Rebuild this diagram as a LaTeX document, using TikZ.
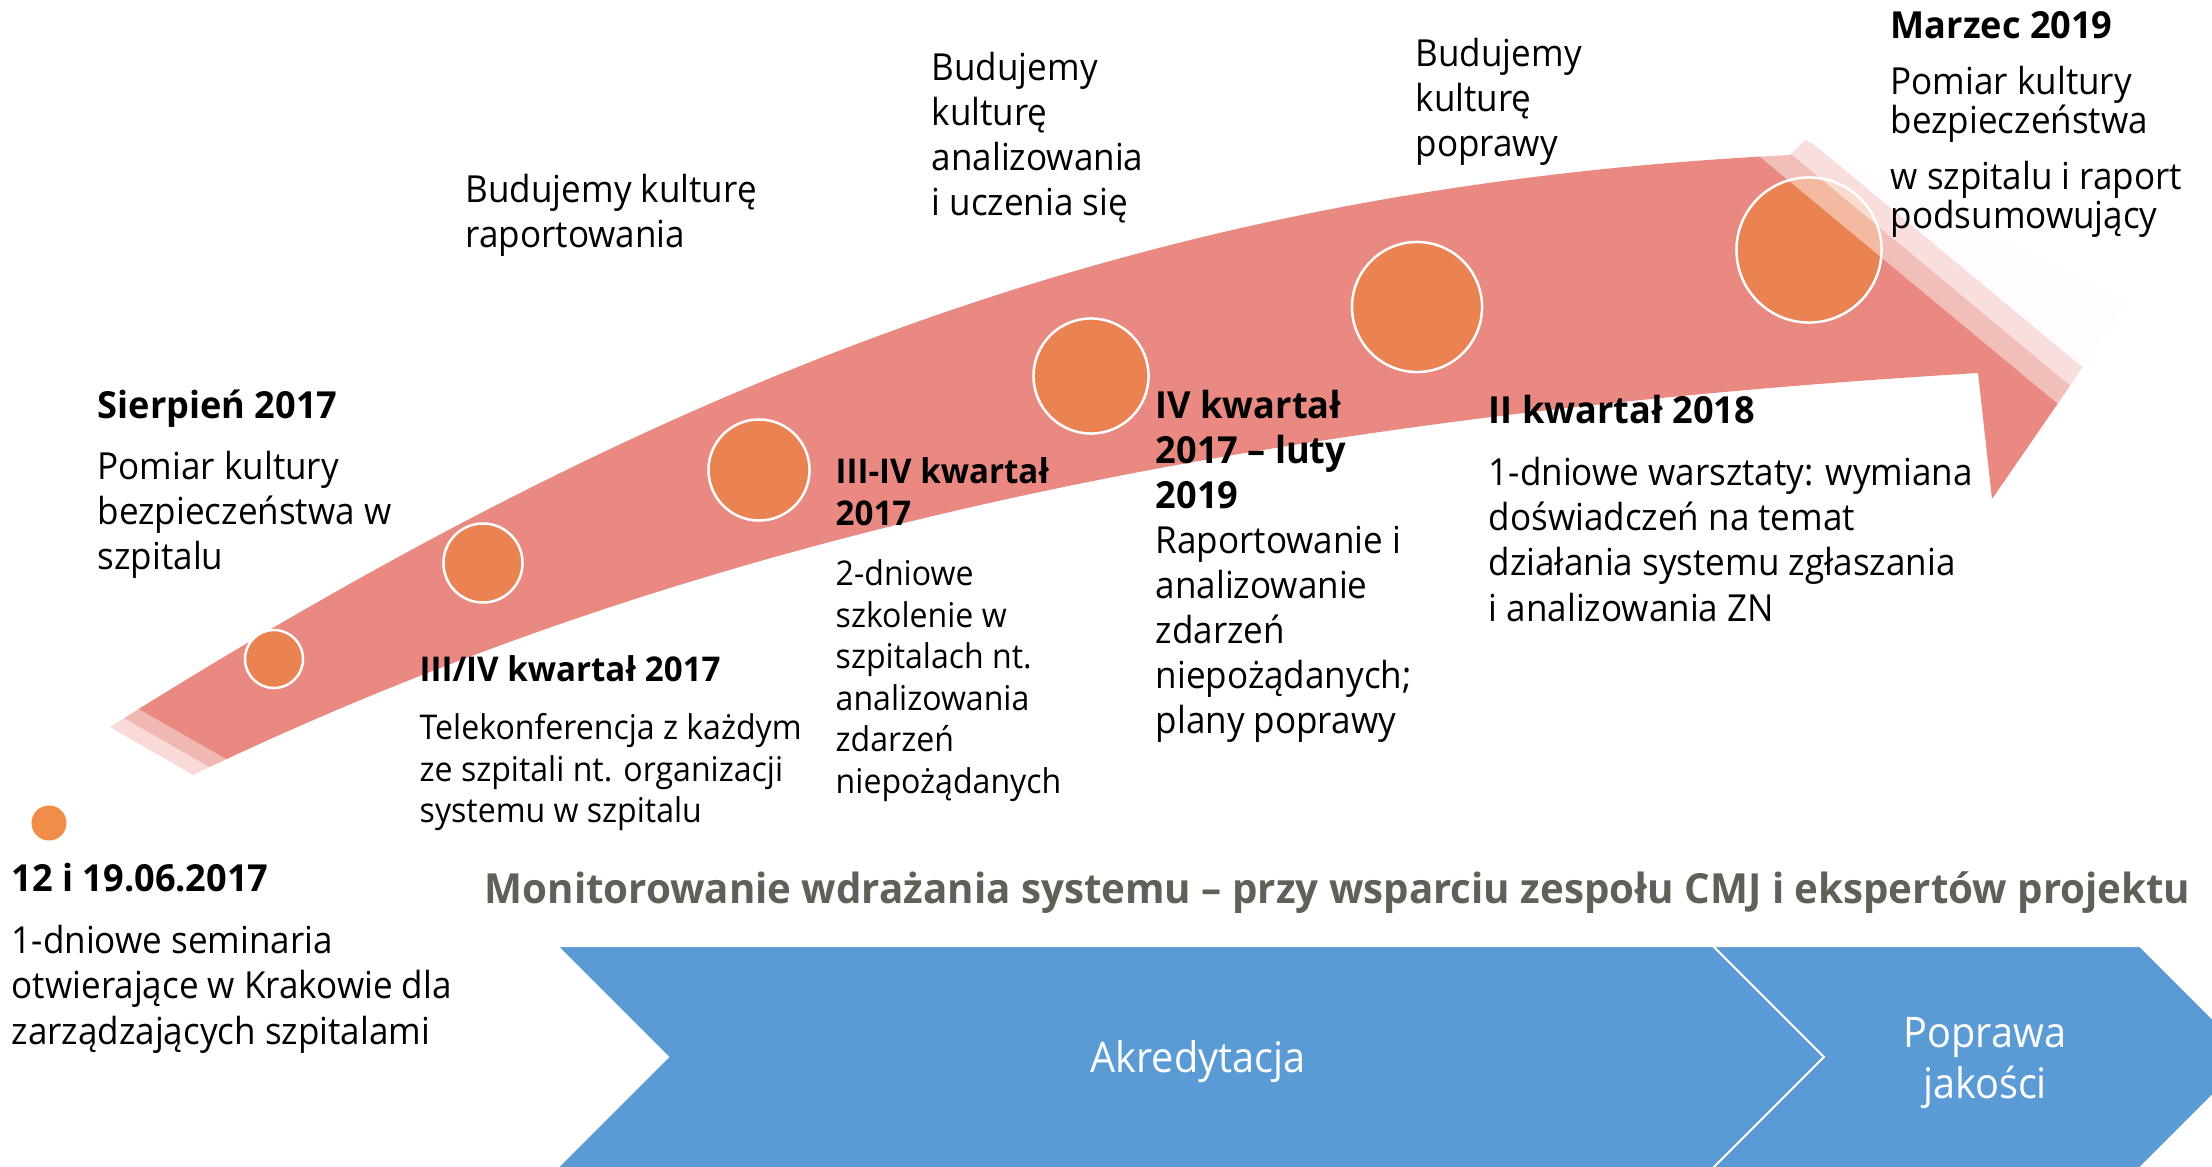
\documentclass[tikz,border=0pt]{standalone}
\usepackage{fontspec}
\setmainfont{Open Sans}[UprightFeatures={FakeStretch=0.94}, BoldFeatures={FakeStretch=0.97}]
\usetikzlibrary{positioning}
\definecolor{bandred}{RGB}{233,137,129}
\definecolor{dotorange}{RGB}{234,130,82}
\definecolor{dotlight}{RGB}{240,141,72}
\definecolor{chevblue}{RGB}{91,155,213}
\definecolor{monigrey}{RGB}{96,96,88}
\tikzset{
  dot/.style={circle, fill=dotorange, draw=white, line width=0.25mm, inner sep=0pt},
  txt/.style={anchor=north west, inner sep=0pt, align=left, font=\fontsize{10.6}{12.8}\selectfont},
  txts/.style={txt, font=\fontsize{9.7}{11.8}\selectfont},
  chev/.style={fill=chevblue, draw=white, line width=0.2mm, line join=miter},
  wash/.style={fill=white, fill opacity=#1}
}

\begin{document}
\begin{tikzpicture}[x=0.01cm, y=-0.01cm]
\clip (0,0) rectangle (2212,1167);
\fill[white] (0,0) rectangle (2212,1167);

% band
\fill[bandred] (110,727) .. controls (710,349) and (1190,185) .. (1790,155) -- (1805,140) -- (2127,303)
  -- (1992,499) -- (1978,373) .. controls (1178,421) and (643,559) .. (193,775) -- cycle;
\fill[wash=0.4] (100,687) -- (233,763) -- (203,815) -- (70,739) -- cycle;
\fill[wash=0.5] (92,700) -- (225,776) -- (195,828) -- (62,752) -- cycle;

\node[circle, fill=dotlight, inner sep=0pt, minimum size=3.5mm] (c0) at (49,823) {};
\node[dot, minimum size=5.8mm] (c1) at (274,659) {};
\node[dot, minimum size=7.9mm] (c2) at (483,563) {};
\node[dot, minimum size=10.1mm] (c3) at (759,470) {};
\node[dot, minimum size=11.5mm] (c4) at (1091,376) {};
\node[dot, minimum size=13mm] (c5) at (1417,307) {};
\node[dot, minimum size=14.5mm] (c6) at (1809,250) {};

\fill[wash=0.45] (1671,83) -- (2146,477) -- (2401,169) -- (1926,-225) -- cycle;
\fill[wash=0.5] (1685,66) -- (2160,460) -- (2415,152) -- (1940,-242) -- cycle;
\fill[wash=0.93] (1699,49) -- (2174,443) -- (2429,135) -- (1954,-259) -- cycle;

% texts
\node[txt] (t1) at (465,173) {Budujemy kulturę\\raportowania};
\node[txt] (t2) at (931,51) {Budujemy\\kulturę\\analizowania\\i uczenia się};
\node[txt] (t3) at (1415,37) {Budujemy\\kulturę\\poprawy};

\node[txt] (g1) at (11,862) {\textbf{12 i 19.06.2017}\\[5.1pt] 1-dniowe seminaria\\otwierające w Krakowie dla\\zarządzających szpitalami};
\node[txt] (g2) at (97,389) {\textbf{Sierpień 2017}\\[4.5pt] Pomiar kultury\\bezpieczeństwa w\\szpitalu};
\node[txts] (g3) at (419,655) {\textbf{III/IV kwartał 2017}\\[4.8pt] Telekonferencja z każdym\\ze szpitali nt. organizacji\\systemu w szpitalu};
\node[txts] (g4) at (835,457) {\textbf{III-IV kwartał}\\\textbf{2017}\\[5.4pt] 2-dniowe\\szkolenie w\\szpitalach nt.\\analizowania\\zdarzeń\\niepożądanych};
\node[txt] (g5) at (1155,389) {\textbf{IV kwartał}\\\textbf{2017 – luty}\\\textbf{2019}\\Raportowanie i\\analizowanie\\zdarzeń\\niepożądanych;\\plany poprawy};
\node[txt] (g6) at (1488,394) {\textbf{II kwartał 2018}\\[5.1pt] 1-dniowe warsztaty: wymiana\\doświadczeń na temat\\działania systemu zgłaszania\\i analizowania ZN};
\node[txt, font=\fontsize{10.6}{11.1}\selectfont] (g7) at (1890,11) {\textbf{Marzec 2019}\\[4.8pt] Pomiar kultury\\bezpieczeństwa\\[4.8pt] w szpitalu i raport\\podsumowujący};

\node[anchor=base west, inner sep=0pt, text=monigrey, font=\bfseries\fontsize{11.8}{14}\selectfont] (mon) at (484,903)
  {Monitorowanie wdrażania systemu – przy wsparciu zespołu CMJ i ekspertów projektu};

% chevrons
\draw[chev] (557,946) -- (1713,946) -- (1824,1057) -- (1713,1168) -- (557,1168) -- (668,1057) -- cycle;
\draw[chev] (1713,946) -- (2140,946) -- (2251,1057) -- (2140,1168) -- (1713,1168) -- (1824,1057) -- cycle;
\node[text=white, font=\fontsize{12}{14.6}\selectfont] (akr) at (1198,1062) {Akredytacja};
\node[text=white, align=center, font=\fontsize{12}{14.6}\selectfont] (popr) at (1985,1063) {Poprawa\\jakości};
\end{tikzpicture}
\end{document}
